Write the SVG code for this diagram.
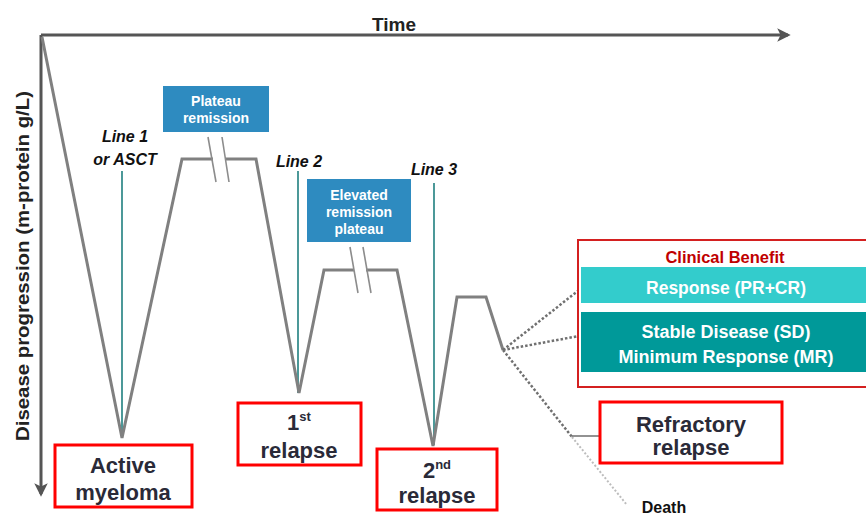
<svg xmlns="http://www.w3.org/2000/svg" width="866" height="515" viewBox="0 0 866 515">
<style>
  .axis{stroke:#555;stroke-width:3;fill:none}
  .curve{stroke:#808080;stroke-width:3;fill:none;stroke-linejoin:miter}
  .brk{stroke:#8c8c8c;stroke-width:1.6;fill:none}
  .teal{stroke:#1f7f7f;stroke-width:1.6}
  .dot{stroke:#707070;stroke-width:2.5;stroke-dasharray:2.5 2;fill:none}
  .dotl{stroke:#bdbdbd;stroke-width:2;stroke-dasharray:2 2;fill:none}
  .redbox{fill:#fff;stroke:#ff0000;stroke-width:3}
  .bluebox{fill:#2e8bc0}
  .lbl{font-family:"Liberation Sans",Arial,sans-serif;font-weight:bold;fill:#2a2a38;text-anchor:middle}
  .line{font-family:"Liberation Sans",Arial,sans-serif;font-weight:bold;font-style:italic;font-size:16px;fill:#111;text-anchor:middle}
  .wt{font-family:"Liberation Sans",Arial,sans-serif;font-weight:bold;font-size:14px;fill:#fff;text-anchor:middle}
  .cb{font-family:"Liberation Sans",Arial,sans-serif;font-weight:bold;fill:#fff;text-anchor:middle}
</style>
<defs>
  <marker id="ah" viewBox="0 0 10 10" refX="8" refY="5" markerWidth="4.5" markerHeight="4.5" orient="auto" markerUnits="strokeWidth">
    <path d="M0,0 L10,5 L0,10 L2.5,5 Z" fill="#555"/>
  </marker>
</defs>
<rect width="866" height="515" fill="#fff"/>

<g id="axes">
  <line class="axis" x1="41" y1="35" x2="788" y2="35" marker-end="url(#ah)"/>
  <line class="axis" x1="41" y1="35" x2="41" y2="494" marker-end="url(#ah)"/>
  <text x="394" y="31" font-family="Liberation Sans,Arial,sans-serif" font-weight="bold" font-size="19" fill="#222" text-anchor="middle">Time</text>
  <text transform="translate(29,266) rotate(-90)" font-family="Liberation Sans,Arial,sans-serif" font-weight="bold" font-size="18" fill="#222" text-anchor="middle" textLength="350" lengthAdjust="spacingAndGlyphs">Disease progression  (m-protein g/L)</text>
</g>

<g id="connectors">
  <line class="teal" x1="122" y1="171" x2="122" y2="437"/>
  <line class="teal" x1="298" y1="171" x2="298" y2="393"/>
  <line class="teal" x1="434" y1="183" x2="434" y2="445"/>
  <polyline class="curve" points="42,37 122,438 182,159 213,159"/>
  <polyline class="curve" points="225,159 256,159 299,393 324,270 354,270"/>
  <polyline class="curve" points="366,270 397,270 433,446 457,297 486,297 503,350"/>
  <line class="brk" x1="208" y1="137" x2="216" y2="182"/>
  <line class="brk" x1="222" y1="137" x2="229" y2="182"/>
  <line class="brk" x1="350" y1="247" x2="358" y2="293"/>
  <line class="brk" x1="363" y1="247" x2="371" y2="293"/>
  <line class="dot" x1="503" y1="350" x2="579" y2="290"/>
  <line class="dot" x1="503" y1="350" x2="579" y2="336"/>
  <line class="dot" x1="503" y1="350" x2="572" y2="437"/>
  <line class="dotl" x1="572" y1="437" x2="627" y2="505"/>
  <line x1="572" y1="436" x2="600" y2="436" stroke="#777" stroke-width="1.6"/>
</g>

<g id="line1">
  <text class="line" x="125" y="142">Line 1</text>
  <text class="line" x="125" y="165">or ASCT</text>
</g>
<g id="line2"><text class="line" x="299" y="167">Line 2</text></g>
<g id="line3"><text class="line" x="434" y="175">Line 3</text></g>

<g id="plateau-remission">
  <rect class="bluebox" x="163" y="86" width="106" height="46"/>
  <text class="wt" x="216" y="106">Plateau</text>
  <text class="wt" x="216" y="123">remission</text>
</g>
<g id="elevated-plateau">
  <rect class="bluebox" x="307" y="179" width="104" height="63"/>
  <text class="wt" x="359" y="200">Elevated</text>
  <text class="wt" x="359" y="217">remission</text>
  <text class="wt" x="359" y="234">plateau</text>
</g>

<g id="active-myeloma">
  <rect class="redbox" x="55" y="445" width="137" height="62"/>
  <text class="lbl" font-size="22" x="123" y="473">Active</text>
  <text class="lbl" font-size="22" x="123" y="500">myeloma</text>
</g>
<g id="first-relapse">
  <rect class="redbox" x="238" y="403" width="123" height="62"/>
  <text class="lbl" font-size="22" x="299" y="430">1<tspan font-size="13" dy="-9">st</tspan></text>
  <text class="lbl" font-size="22" x="299" y="458">relapse</text>
</g>
<g id="second-relapse">
  <rect class="redbox" x="377" y="449" width="120" height="61"/>
  <text class="lbl" font-size="22" x="437" y="478">2<tspan font-size="13" dy="-9">nd</tspan></text>
  <text class="lbl" font-size="22" x="437" y="503">relapse</text>
</g>
<g id="refractory-relapse">
  <rect class="redbox" x="600" y="402" width="182" height="61"/>
  <text class="lbl" font-size="22" x="691" y="432">Refractory</text>
  <text class="lbl" font-size="22" x="691" y="455">relapse</text>
</g>
<g id="death">
  <text x="664" y="513" font-family="Liberation Sans,Arial,sans-serif" font-weight="bold" font-size="16" fill="#111" text-anchor="middle">Death</text>
</g>

<g id="clinical-benefit">
  <rect x="578" y="240" width="300" height="147" fill="#fff" stroke="#d42020" stroke-width="2"/>
  <text x="725" y="263" font-family="Liberation Sans,Arial,sans-serif" font-weight="bold" font-size="16.5" fill="#c00000" text-anchor="middle">Clinical Benefit</text>
  <rect x="581" y="267" width="290" height="36" fill="#33cccc"/>
  <text class="cb" font-size="17.5" x="726" y="294">Response (PR+CR)</text>
  <rect x="581" y="312" width="290" height="60" fill="#009999"/>
  <text class="cb" font-size="18" x="726" y="338">Stable Disease (SD)</text>
  <text class="cb" font-size="18" x="726" y="363">Minimum Response (MR)</text>
</g>
</svg>
